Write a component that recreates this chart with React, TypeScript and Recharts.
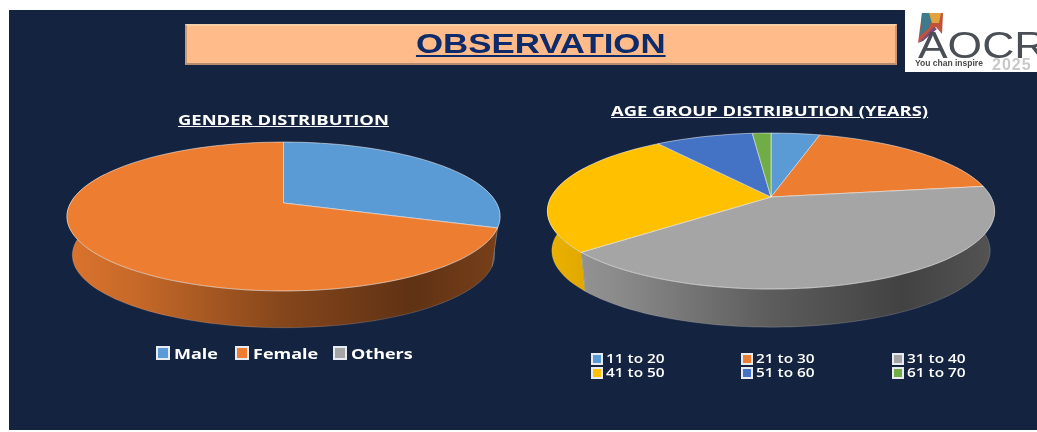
import React from "react";
import { PieChart, Pie } from "recharts";

const genderLabels = ["Male", "Female", "Others"];
const genderValues = [30.3, 69.7, 0];
const genderColors = ["#5B9BD5", "#ED7D31", "#A5A5A5"];

const ageLabels = ["11 to 20", "21 to 30", "31 to 40", "41 to 50", "51 to 60", "61 to 70"];
const ageValues = [4.2, 18.5, 41.1, 26.2, 8.4, 1.6];
const ageColors = ["#5B9BD5", "#ED7D31", "#A5A5A5", "#FFC000", "#4472C4", "#70AD47"];

const genderData = genderLabels.map((name, i) => ({ name, value: genderValues[i], fill: genderColors[i] }));
const ageData = ageLabels.map((name, i) => ({ name, value: ageValues[i], fill: ageColors[i] }));

const NAVY = "#14233F";
const UI_FONT = "'Open Sans', sans-serif";

// tilted-disc look: persp pulls the back of the disc toward the apex
interface Tilt {
  ratio: number;
  persp: number;
  depth: number;
  shrink: number;
}

const genderTilt: Tilt = { ratio: 0.338, persp: 0.181, depth: 39, shrink: 0.975 };
const ageTilt: Tilt = { ratio: 0.343, persp: 0.18, depth: 40, shrink: 0.98 };

const rad = (d: number) => (d * Math.PI) / 180;

function project(p: any, t: Tilt, deg: number, bottom = false) {
  const s = Math.sin(rad(deg));
  const k = 1 + t.persp * s;
  const f = bottom ? t.shrink : 1;
  return {
    x: p.cx + (f * p.outerRadius * Math.cos(rad(deg))) / k,
    y: p.cy - (f * p.outerRadius * t.ratio * s) / k + (bottom ? t.depth : 0),
  };
}

function arcPoints(p: any, t: Tilt, from: number, to: number, bottom = false) {
  const n = Math.max(2, Math.ceil(Math.abs(to - from) / 2));
  const out: { x: number; y: number }[] = [];
  for (let i = 0; i <= n; i++) out.push(project(p, t, from + ((to - from) * i) / n, bottom));
  return out;
}

const toPath = (pts: { x: number; y: number }[]) =>
  pts.map((q, i) => `${i ? "L" : "M"}${q.x.toFixed(1)} ${q.y.toFixed(1)}`).join(" ");

function shade(hex: string, f: number) {
  const n = parseInt(hex.slice(1), 16);
  const c = [(n >> 16) & 255, (n >> 8) & 255, n & 255].map((v) => Math.round(v * f));
  return `rgb(${c.join(",")})`;
}

const topFace = (t: Tilt) => (p: any) => {
  if (p.startAngle === p.endAngle) return <g />;
  const d = `M${p.cx} ${p.cy} ` + toPath(arcPoints(p, t, p.startAngle, p.endAngle)).replace("M", "L") + " Z";
  return <path d={d} fill={p.fill} stroke="rgba(255,255,255,0.5)" strokeWidth={1} strokeLinejoin="round" />;
};

const wallFace = (t: Tilt) => (p: any) => {
  const hi = Math.min(p.startAngle, 25);
  const lo = Math.max(p.endAngle, -205);
  if (lo >= hi) return <g />;
  const gid = `wall-${p.cx}-${p.fill.slice(1)}`;
  const upper = arcPoints(p, t, hi, lo);
  const lower = arcPoints(p, t, lo, hi, true);
  return (
    <g>
      <defs>
        <linearGradient id={gid} gradientUnits="userSpaceOnUse" x1={p.cx - p.outerRadius} x2={p.cx + p.outerRadius} y1={0} y2={0}>
          <stop offset="0" stopColor={shade(p.fill, 0.92)} />
          <stop offset="0.15" stopColor={shade(p.fill, 0.84)} />
          <stop offset="0.5" stopColor={shade(p.fill, 0.56)} />
          <stop offset="0.8" stopColor={shade(p.fill, 0.4)} />
          <stop offset="1" stopColor={shade(p.fill, 0.5)} />
        </linearGradient>
      </defs>
      <path d={toPath(upper) + " " + toPath(lower).replace("M", "L") + " Z"} fill={`url(#${gid})`} stroke="rgba(255,255,255,0.22)" strokeWidth={0.8} />
    </g>
  );
};

// the source slide is stretched sideways, so the text is too
function Stretched({ by, children }: { by: number; children: string }) {
  return <span style={{ display: "inline-block", transform: `scaleX(${by})`, transformOrigin: "left center" }}>{children}</span>;
}

function LegendMark({ color, size }: { color: string; size: number }) {
  return (
    <span
      style={{
        display: "inline-block",
        width: size,
        height: size,
        boxSizing: "border-box",
        background: color,
        border: "2px solid #E8ECF2",
      }}
    />
  );
}

function Heading({ x, y, children }: { x: number; y: number; children: string }) {
  return (
    <div
      style={{
        position: "absolute",
        left: x,
        top: y,
        color: "#fff",
        fontFamily: UI_FONT,
        fontWeight: 700,
        fontSize: 14.5,
        lineHeight: "18px",
        textDecoration: "underline",
        whiteSpace: "nowrap",
        transform: "scaleX(1.27)",
        transformOrigin: "left center",
      }}
    >
      {children}
    </div>
  );
}

function Logo() {
  return (
    <div style={{ position: "absolute", left: 905, top: 10, width: 132, height: 62, background: "#fff", overflow: "hidden" }}>
      <svg width={132} height={62} style={{ position: "absolute", left: 0, top: 0, filter: "blur(0.7px)" }}>
        <polygon points="17,3 38,3 37,24 31,17 13,33" fill="#C0533A" />
        <polygon points="17,3 29,3 24,18 15,26" fill="#3C7A8C" />
        <polygon points="24,3 36,3 34,13 27,13" fill="#E2A23C" />
        <polygon points="13,33 29,17 32,19 18,31" fill="#7B4A78" />
      </svg>
      <div style={{ position: "absolute", left: 13, top: 22.5, fontFamily: "'Liberation Sans'", fontSize: 37, lineHeight: "26px", color: "#4a4f55", filter: "blur(0.6px)", whiteSpace: "nowrap", transform: "scaleX(1.2)", transformOrigin: "left center" }}>
        AOCR
      </div>
      <div style={{ position: "absolute", left: 10, top: 49, fontFamily: "'Liberation Sans'", fontWeight: 700, fontSize: 8.5, lineHeight: "9px", color: "#4a4a4a", filter: "blur(0.5px)", whiteSpace: "nowrap" }}>
        You chan inspire
      </div>
      <div style={{ position: "absolute", left: 87, top: 48.5, fontFamily: "'Liberation Sans'", fontWeight: 700, fontSize: 16, lineHeight: "12px", letterSpacing: 1, color: "#c9c9c9", filter: "blur(0.5px)", whiteSpace: "nowrap" }}>
        2025
      </div>
    </div>
  );
}

export default function App() {
  return (
    <div style={{ position: "absolute", left: 0, top: 0, width: 1037, height: 432, background: "#fff", overflow: "hidden" }}>
      <div style={{ position: "absolute", left: 9, top: 10, width: 1028, height: 420, background: NAVY }} />

      <div
        style={{
          position: "absolute",
          left: 185,
          top: 24,
          width: 712,
          height: 41,
          boxSizing: "border-box",
          background: "#FFBB8A",
          borderTop: "2px solid #F6CFA8",
          borderLeft: "2px solid #C99A78",
          borderRight: "2px solid #C99A78",
          borderBottom: "2px solid #B48A70",
          textAlign: "center",
          fontFamily: "'Liberation Sans', Arial, sans-serif",
          fontWeight: 700,
          fontSize: 27,
          lineHeight: "36px",
          color: "#0D2A6B",
        }}
      >
        <span style={{ display: "inline-block", transform: "scaleX(1.29)", textDecoration: "underline" }}>OBSERVATION</span>
      </div>

      <Logo />

      <Heading x={178} y={111}>GENDER DISTRIBUTION</Heading>
      <Heading x={611} y={102}>AGE GROUP DISTRIBUTION (YEARS)</Heading>

      <div style={{ position: "absolute", left: 0, top: 0 }}>
        <PieChart width={1037} height={432} margin={{ top: 0, right: 0, bottom: 0, left: 0 }}>
          <Pie data={genderData} dataKey="value" cx={283.5} cy={203} outerRadius={213} startAngle={90} endAngle={-270} shape={wallFace(genderTilt)} isAnimationActive={false} legendType="none" />
          <Pie data={genderData} dataKey="value" cx={283.5} cy={203} outerRadius={213} startAngle={90} endAngle={-270} shape={topFace(genderTilt)} isAnimationActive={false} legendType="none" />
          <Pie data={ageData} dataKey="value" cx={771} cy={197} outerRadius={220} startAngle={90} endAngle={-270} shape={wallFace(ageTilt)} isAnimationActive={false} legendType="none" />
          <Pie data={ageData} dataKey="value" cx={771} cy={197} outerRadius={220} startAngle={90} endAngle={-270} shape={topFace(ageTilt)} isAnimationActive={false} legendType="none" />
        </PieChart>
      </div>

      {genderLabels.map((label, i) => (
        <div
          key={label}
          style={{
            position: "absolute",
            left: [156, 235, 333][i],
            top: 343,
            display: "flex",
            alignItems: "center",
            gap: 4,
            color: "#fff",
            fontFamily: UI_FONT,
            fontWeight: 700,
            fontSize: 15,
            lineHeight: "20px",
          }}
        >
          <LegendMark color={genderColors[i]} size={14} />
          <Stretched by={1.2}>{label}</Stretched>
        </div>
      ))}

      {ageLabels.map((label, i) => (
        <div
          key={label}
          style={{
            position: "absolute",
            left: 591 + (i % 3) * 150.3,
            top: 352 + Math.floor(i / 3) * 14,
            display: "flex",
            alignItems: "center",
            gap: 3,
            color: "#fff",
            fontFamily: UI_FONT,
            fontWeight: 600,
            fontSize: 12.5,
            lineHeight: "13px",
          }}
        >
          <LegendMark color={ageColors[i]} size={12} />
          <Stretched by={1.23}>{label}</Stretched>
        </div>
      ))}
    </div>
  );
}
